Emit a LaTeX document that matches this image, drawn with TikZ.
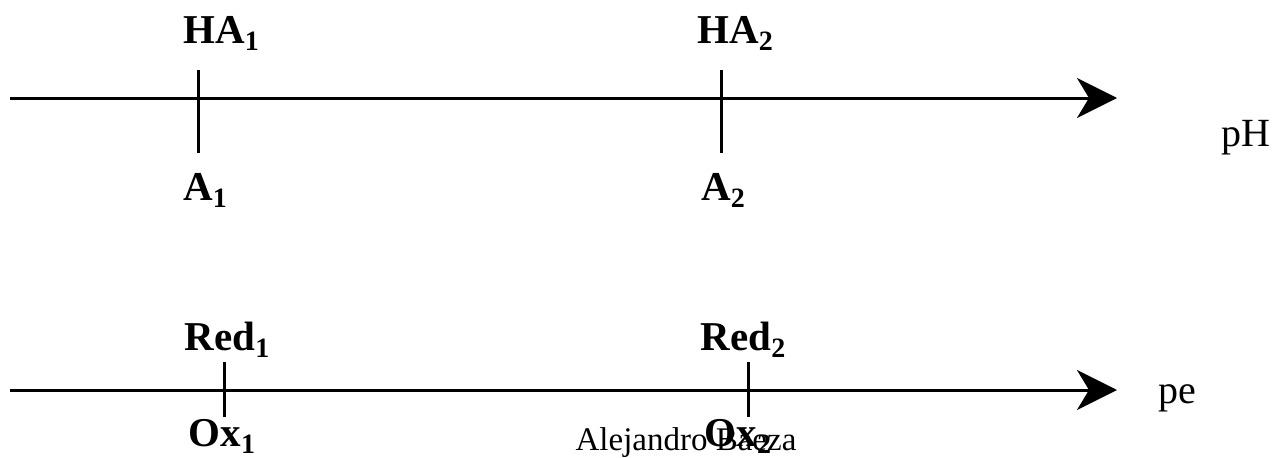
\documentclass[tikz,border=0pt]{standalone}
\usepackage{fontspec}
\setmainfont{Liberation Serif}
\usetikzlibrary{arrows.meta}
\newcommand{\mysub}[1]{\raisebox{-0.18em}{\fontsize{28}{28}\selectfont #1}}
\begin{document}
\begin{tikzpicture}[x=1pt,y=-1pt,
  axis/.style={line width=3pt,-{Stealth[length=40pt,width=40pt,inset=12pt]}},
  tickline/.style={line width=3pt},
  lab/.style={font=\fontsize{41}{41}\selectfont\bfseries,anchor=base,inner sep=0pt},
  axlab/.style={font=\fontsize{40}{40}\selectfont,anchor=base west,inner sep=0pt},
  auth/.style={font=\fontsize{33}{33}\selectfont,anchor=base,inner sep=0pt}]
\useasboundingbox (0,0) rectangle (1278,458);
% top axis
\coordinate (t0) at (10,98);
\coordinate (t1) at (1117,98);
\draw[axis] (t0) -- (t1);
\coordinate (ta1) at (198,70); \coordinate (tb1) at (198,153);
\coordinate (ta2) at (721,70); \coordinate (tb2) at (721,153);
\draw[tickline] (ta1) -- (tb1);
\draw[tickline] (ta2) -- (tb2);
\node[lab] (HA1) at (221,43) {HA\mysub{1}};
\node[lab] (HA2) at (735,43) {HA\mysub{2}};
\node[lab] (A1) at (205,200) {A\mysub{1}};
\node[lab] (A2) at (723,200) {A\mysub{2}};
\node[axlab] (pH) at (1221,146) {pH};
% bottom axis
\coordinate (b0) at (10,390);
\coordinate (b1) at (1117,390);
\draw[axis] (b0) -- (b1);
\coordinate (ra1) at (224,362); \coordinate (rb1) at (224,417);
\coordinate (ra2) at (748,362); \coordinate (rb2) at (748,417);
\draw[tickline] (ra1) -- (rb1);
\draw[tickline] (ra2) -- (rb2);
\node[lab] (Red1) at (227,350) {Red\mysub{1}};
\node[lab] (Red2) at (743,350) {Red\mysub{2}};
\node[lab] (Ox1) at (222,446) {Ox\mysub{1}};
\node[lab] (Ox2) at (738,446) {Ox\mysub{2}};
\node[axlab] (pe) at (1158,403) {pe};
\node[auth] (author) at (686,450) {Alejandro Baeza};
\end{tikzpicture}
\end{document}
